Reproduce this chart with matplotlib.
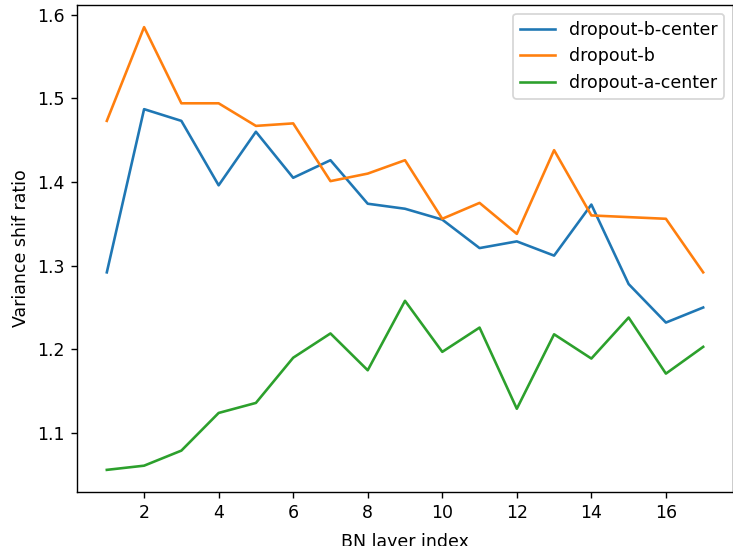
import matplotlib
matplotlib.use("Agg")
import matplotlib.pyplot as plt

layers = list(range(1, 18))
b_center = [1.292, 1.487, 1.473, 1.396, 1.460, 1.405, 1.426, 1.374, 1.368,
            1.355, 1.321, 1.329, 1.312, 1.373, 1.278, 1.232, 1.250]
b_plain = [1.473, 1.585, 1.494, 1.494, 1.467, 1.470, 1.401, 1.410, 1.426,
           1.356, 1.375, 1.338, 1.438, 1.360, 1.358, 1.356, 1.292]
a_center = [1.056, 1.061, 1.079, 1.124, 1.136, 1.190, 1.219, 1.175, 1.258,
            1.197, 1.226, 1.129, 1.218, 1.189, 1.238, 1.171, 1.203]

fig = plt.figure(figsize=(733 / 125, 546 / 125), dpi=125)
ax = fig.add_axes([77 / 733, 54 / 546, 656 / 733, 487 / 546])

ax.plot(layers, b_center, label="dropout-b-center")
ax.plot(layers, b_plain, label="dropout-b")
ax.plot(layers, a_center, label="dropout-a-center")

ax.set_xlabel("BN layer index", labelpad=6)
ax.set_ylabel("Variance shif ratio")
ax.legend(loc="upper right")

fig.savefig("out.png", dpi=125)
